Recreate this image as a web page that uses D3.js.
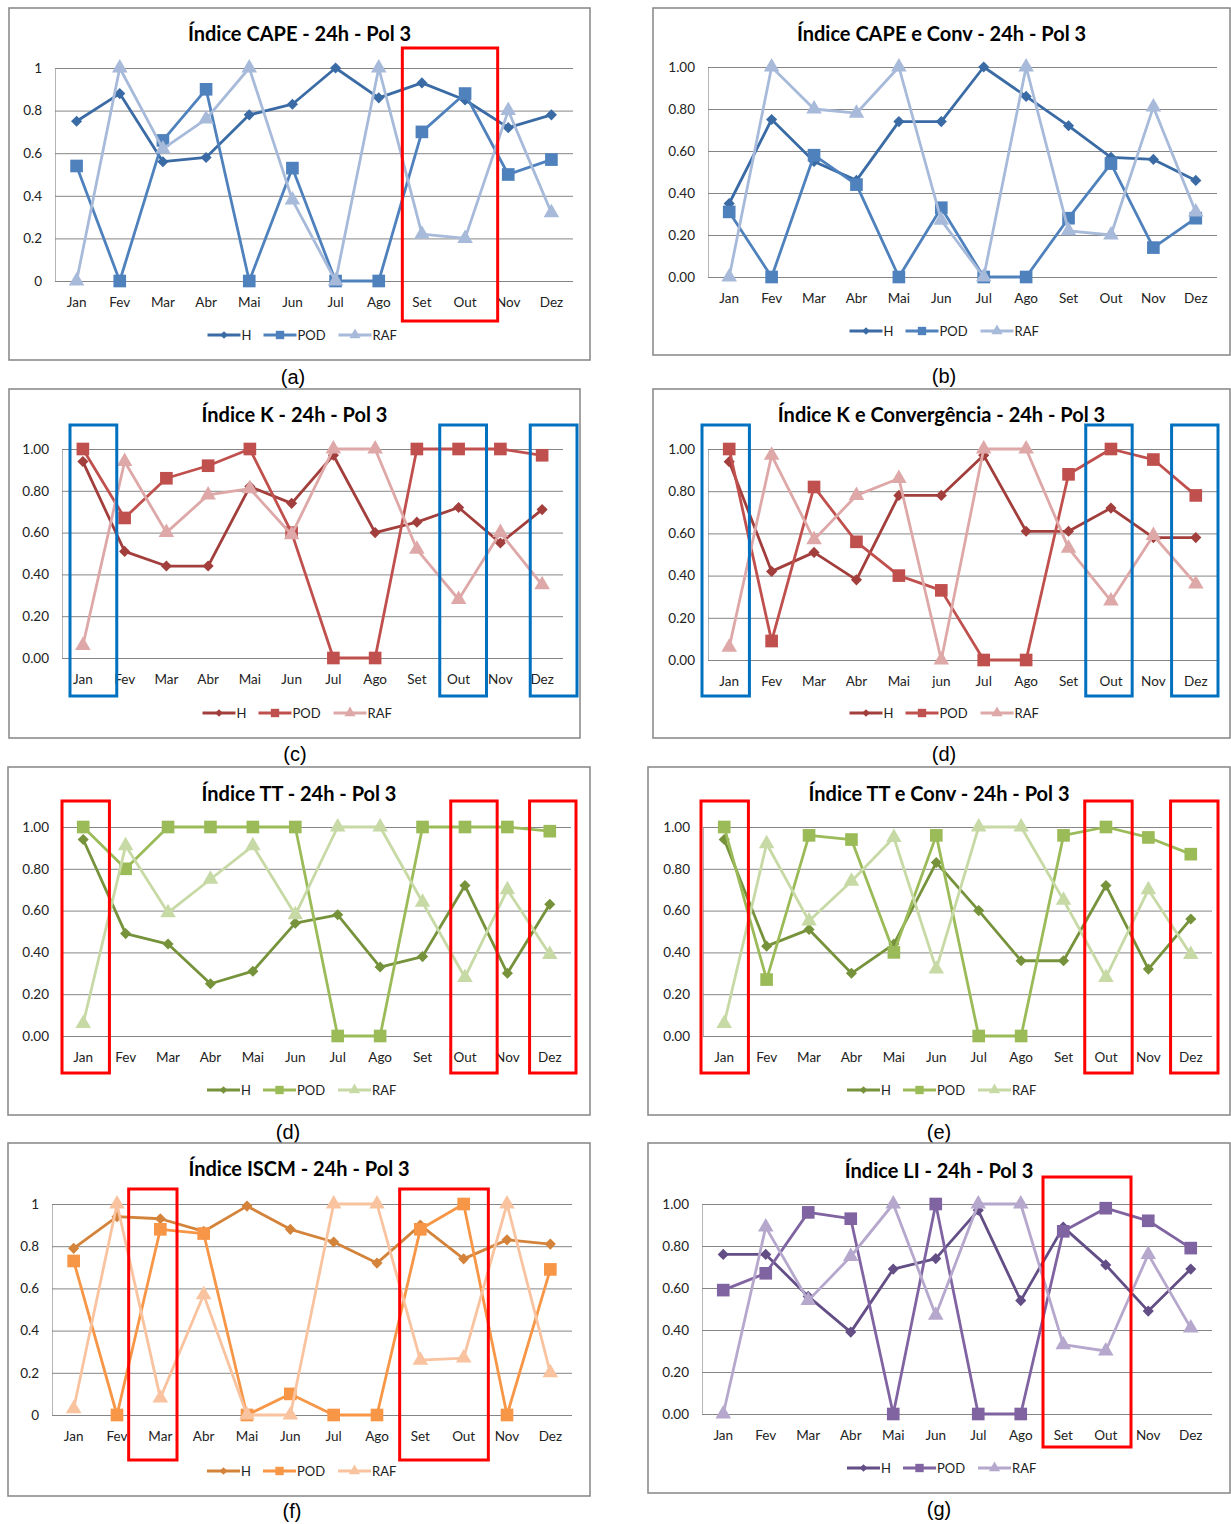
<!DOCTYPE html>
<html>
<head>
<meta charset="utf-8">
<script src="https://cdn.jsdelivr.net/npm/d3@7"></script>
<style>
  body { margin: 0; background: #fff; }
  svg { display: block; }
</style>
</head>
<body>
<svg id="fig" width="1231" height="1524"></svg>
<script>
// months on the x axis (panel d writes "jun" in lower case)
const months = ["Jan", "Fev", "Mar", "Abr", "Mai", "Jun", "Jul", "Ago", "Set", "Out", "Nov", "Dez"];
const monthsK = ["Jan", "Fev", "Mar", "Abr", "Mai", "jun", "Jul", "Ago", "Set", "Out", "Nov", "Dez"];
const seriesNames = ["H", "POD", "RAF"];

// y tick values and the two label styles used
const tickValues = [0, 0.2, 0.4, 0.6, 0.8, 1];
const ticksShort = ["0", "0.2", "0.4", "0.6", "0.8", "1"];
const ticksLong = ["0.00", "0.20", "0.40", "0.60", "0.80", "1.00"];

// (a) CAPE
const capeH   = [0.75, 0.88, 0.56, 0.58, 0.78, 0.83, 1.00, 0.86, 0.93, 0.85, 0.72, 0.78];
const capePOD = [0.54, 0.00, 0.66, 0.90, 0.00, 0.53, 0.00, 0.00, 0.70, 0.88, 0.50, 0.57];
const capeRAF = [0.00, 1.00, 0.62, 0.76, 1.00, 0.38, 0.00, 1.00, 0.22, 0.20, 0.80, 0.32];
// (b) CAPE e Conv
const capeConvH   = [0.35, 0.75, 0.55, 0.46, 0.74, 0.74, 1.00, 0.86, 0.72, 0.57, 0.56, 0.46];
const capeConvPOD = [0.31, 0.00, 0.58, 0.44, 0.00, 0.33, 0.00, 0.00, 0.28, 0.54, 0.14, 0.28];
const capeConvRAF = [0.00, 1.00, 0.80, 0.78, 1.00, 0.27, 0.00, 1.00, 0.22, 0.20, 0.81, 0.31];
// (c) K
const kH   = [0.94, 0.51, 0.44, 0.44, 0.82, 0.74, 0.97, 0.60, 0.65, 0.72, 0.55, 0.71];
const kPOD = [1.00, 0.67, 0.86, 0.92, 1.00, 0.60, 0.00, 0.00, 1.00, 1.00, 1.00, 0.97];
const kRAF = [0.06, 0.94, 0.60, 0.78, 0.81, 0.59, 1.00, 1.00, 0.52, 0.28, 0.60, 0.35];
// (d) K e Convergência
const kConvH   = [0.94, 0.42, 0.51, 0.38, 0.78, 0.78, 0.97, 0.61, 0.61, 0.72, 0.58, 0.58];
const kConvPOD = [1.00, 0.09, 0.82, 0.56, 0.40, 0.33, 0.00, 0.00, 0.88, 1.00, 0.95, 0.78];
const kConvRAF = [0.06, 0.97, 0.57, 0.78, 0.86, 0.00, 1.00, 1.00, 0.53, 0.28, 0.59, 0.36];
// (d) TT
const ttH   = [0.94, 0.49, 0.44, 0.25, 0.31, 0.54, 0.58, 0.33, 0.38, 0.72, 0.30, 0.63];
const ttPOD = [1.00, 0.80, 1.00, 1.00, 1.00, 1.00, 0.00, 0.00, 1.00, 1.00, 1.00, 0.98];
const ttRAF = [0.06, 0.91, 0.59, 0.75, 0.91, 0.58, 1.00, 1.00, 0.64, 0.28, 0.70, 0.39];
// (e) TT e Conv
const ttConvH   = [0.94, 0.43, 0.51, 0.30, 0.44, 0.83, 0.60, 0.36, 0.36, 0.72, 0.32, 0.56];
const ttConvPOD = [1.00, 0.27, 0.96, 0.94, 0.40, 0.96, 0.00, 0.00, 0.96, 1.00, 0.95, 0.87];
const ttConvRAF = [0.06, 0.92, 0.55, 0.74, 0.95, 0.32, 1.00, 1.00, 0.65, 0.28, 0.70, 0.39];
// (f) ISCM
const iscmH   = [0.79, 0.94, 0.93, 0.87, 0.99, 0.88, 0.82, 0.72, 0.90, 0.74, 0.83, 0.81];
const iscmPOD = [0.73, 0.00, 0.88, 0.86, 0.00, 0.10, 0.00, 0.00, 0.88, 1.00, 0.00, 0.69];
const iscmRAF = [0.03, 1.00, 0.08, 0.57, 0.00, 0.00, 1.00, 1.00, 0.26, 0.27, 1.00, 0.20];
// (g) LI
const liH   = [0.76, 0.76, 0.56, 0.39, 0.69, 0.74, 0.97, 0.54, 0.89, 0.71, 0.49, 0.69];
const liPOD = [0.59, 0.67, 0.96, 0.93, 0.00, 1.00, 0.00, 0.00, 0.87, 0.98, 0.92, 0.79];
const liRAF = [0.00, 0.89, 0.54, 0.75, 1.00, 0.47, 1.00, 1.00, 0.33, 0.30, 0.76, 0.41];

// colour triples: H, POD, RAF
const blues   = ["#3A6BA5", "#4F81BD", "#A7BADA"];
const reds    = ["#A23E3C", "#C0504D", "#DDA8A7"];
const greens  = ["#76933C", "#9BBB59", "#C7DAA6"];
const oranges = ["#D4833B", "#F79646", "#F9C3A0"];
const purples = ["#634E86", "#8064A2", "#B6A8CD"];

const panels = [
  { title: "Índice CAPE - 24h - Pol 3", tag: "(a)", tagX: 293, cats: months, ticks: ticksShort, data: [capeH, capePOD, capeRAF], colors: blues,
    frame: [9, 8, 590, 360], plot: [55, 68, 573, 281], titleY: 41, legendY: 335, tagY: 384,
    boxes: [{ c: "#FF0000", m0: "Set", m1: "Out", a: 2, b: 11, y0: 48, y1: 321 }] },
  { title: "Índice CAPE e Conv - 24h - Pol 3", tag: "(b)", tagX: 944, cats: months, ticks: ticksLong, data: [capeConvH, capeConvPOD, capeConvRAF], colors: blues,
    frame: [653, 8, 1230, 355], plot: [708, 67, 1217, 277], titleY: 41, legendY: 331, tagY: 383, boxes: [] },
  { title: "Índice K - 24h - Pol 3", tag: "(c)", tagX: 295, cats: months, ticks: ticksLong, data: [kH, kPOD, kRAF], colors: reds,
    frame: [9, 389, 580, 738], plot: [62, 449, 563, 658], titleY: 422, legendY: 713, tagY: 761,
    boxes: [{ c: "#0070C0", m0: "Jan", m1: "Jan", a: 8, b: 13, y0: 425, y1: 696 },
            { c: "#0070C0", m0: "Out", m1: "Out", a: 2, b: 7, y0: 425, y1: 696 },
            { c: "#0070C0", m0: "Dez", m1: "Dez", a: 9, b: 14, y0: 425, y1: 696 }] },
  { title: "Índice K e Convergência - 24h - Pol 3", tag: "(d)", tagX: 944, cats: monthsK, ticks: ticksLong, data: [kConvH, kConvPOD, kConvRAF], colors: reds,
    frame: [653, 389, 1230, 738], plot: [708, 449, 1217, 660], titleY: 422, legendY: 713, tagY: 761,
    boxes: [{ c: "#0070C0", m0: "Jan", m1: "Jan", a: -6, b: -1, y0: 425, y1: 696 },
            { c: "#0070C0", m0: "Out", m1: "Out", a: -4, b: 0, y0: 425, y1: 696 },
            { c: "#0070C0", m0: "Dez", m1: "Dez", a: -3, b: 1, y0: 425, y1: 696 }] },
  { title: "Índice TT - 24h - Pol 3", tag: "(d)", tagX: 288, cats: months, ticks: ticksLong, data: [ttH, ttPOD, ttRAF], colors: greens,
    frame: [8, 767, 590, 1115], plot: [62, 827, 571, 1036], titleY: 801, legendY: 1090, tagY: 1139,
    boxes: [{ c: "#FF0000", m0: "Jan", m1: "Jan", a: 0, b: 5, y0: 801, y1: 1073 },
            { c: "#FF0000", m0: "Out", m1: "Out", a: 7, b: 11, y0: 801, y1: 1073 },
            { c: "#FF0000", m0: "Dez", m1: "Dez", a: 1, b: 5, y0: 801, y1: 1073 }] },
  { title: "Índice TT e Conv - 24h - Pol 3", tag: "(e)", tagX: 939, cats: months, ticks: ticksLong, data: [ttConvH, ttConvPOD, ttConvRAF], colors: greens,
    frame: [648, 767, 1230, 1115], plot: [703, 827, 1212, 1036], titleY: 801, legendY: 1090, tagY: 1139,
    boxes: [{ c: "#FF0000", m0: "Jan", m1: "Jan", a: -2, b: 3, y0: 801, y1: 1073 },
            { c: "#FF0000", m0: "Out", m1: "Out", a: 0, b: 5, y0: 801, y1: 1073 },
            { c: "#FF0000", m0: "Dez", m1: "Dez", a: 1, b: 6, y0: 801, y1: 1073 }] },
  { title: "Índice ISCM - 24h - Pol 3", tag: "(f)", tagX: 292, cats: months, ticks: ticksShort, data: [iscmH, iscmPOD, iscmRAF], colors: oranges,
    frame: [8, 1143, 590, 1496], plot: [52, 1204, 572, 1415], titleY: 1176, legendY: 1471, tagY: 1518,
    boxes: [{ c: "#FF0000", m0: "Mar", m1: "Mar", a: -10, b: -5, y0: 1189, y1: 1460 },
            { c: "#FF0000", m0: "Set", m1: "Out", a: 1, b: 3, y0: 1189, y1: 1460 }] },
  { title: "Índice LI - 24h - Pol 3", tag: "(g)", tagX: 939, cats: months, ticks: ticksLong, data: [liH, liPOD, liRAF], colors: purples,
    frame: [648, 1143, 1230, 1493], plot: [702, 1204, 1212, 1414], titleY: 1178, legendY: 1468, tagY: 1516,
    boxes: [{ c: "#FF0000", m0: "Set", m1: "Out", a: 1, b: 4, y0: 1177, y1: 1447 }] }
];

const svg = d3.select("#fig");
// H = diamond (square turned 45 degrees), POD = square, RAF = triangle
const symbols = [d3.symbolSquare, d3.symbolSquare, d3.symbolTriangle];
const symbolRotate = [45, 0, 0];
const symbolSizes = [62, 160, 105];
const legendSizes = [30, 70, 55];
const font = "Lato, 'DejaVu Sans', sans-serif";

panels.forEach(drawPanel);

function drawPanel(p) {
  const [fx0, fy0, fx1, fy1] = p.frame;
  const [px0, py0, px1, py1] = p.plot;
  const g = svg.append("g");

  // chart frame
  g.append("rect")
    .attr("x", fx0).attr("y", fy0)
    .attr("width", fx1 - fx0).attr("height", fy1 - fy0)
    .attr("fill", "#fff").attr("stroke", "#8c8c8c").attr("stroke-width", 1.6);

  const x = d3.scaleBand().domain(p.cats).range([px0, px1]);
  const y = d3.scaleLinear().domain([0, 1]).range([py1, py0]);
  const cx = d => x(d) + x.bandwidth() / 2;

  // gridlines + y labels
  const yAxis = g.append("g")
    .attr("transform", `translate(${px0},0)`)
    .call(d3.axisLeft(y).tickValues(tickValues)
      .tickFormat((d, i) => p.ticks[i])
      .tickSize(-(px1 - px0)).tickSizeOuter(0).tickPadding(13));
  yAxis.select(".domain").attr("stroke", "#b5b5b5").attr("stroke-width", 1);
  yAxis.selectAll(".tick line").attr("stroke", "#858585").attr("stroke-width", 1);
  yAxis.selectAll(".tick text")
    .attr("fill", "#222").style("font-family", font).style("font-size", "13.5px");

  // x labels
  const xAxis = g.append("g")
    .attr("transform", `translate(0,${py1})`)
    .call(d3.axisBottom(x).tickSize(0).tickPadding(16));
  xAxis.select(".domain").remove();
  xAxis.selectAll(".tick text")
    .attr("fill", "#222").style("font-family", font).style("font-size", "13.5px");

  // title
  g.append("text")
    .attr("x", (fx0 + fx1) / 2).attr("y", p.titleY)
    .attr("text-anchor", "middle")
    .style("font-family", font).style("font-weight", "bold").style("font-size", "20px")
    .attr("fill", "#000")
    .text(p.title);

  // series: H, POD, RAF
  const line = d3.line().x((d, i) => cx(p.cats[i])).y(d => y(d));
  p.data.forEach((vals, s) => {
    g.append("path")
      .datum(vals)
      .attr("d", line)
      .attr("fill", "none")
      .attr("stroke", p.colors[s])
      .attr("stroke-width", 2.8)
      .attr("stroke-linejoin", "round");
    g.selectAll(null)
      .data(vals)
      .enter()
      .append("path")
      .attr("d", d3.symbol().type(symbols[s]).size(symbolSizes[s]))
      .attr("transform", (d, i) => `translate(${cx(p.cats[i])},${y(d)}) rotate(${symbolRotate[s]})`)
      .attr("fill", p.colors[s]);
  });

  // legend
  const legendX = (fx0 + fx1) / 2 - 92;
  const offsets = [0, 56, 131];
  seriesNames.forEach((name, s) => {
    const lx = legendX + offsets[s];
    g.append("line")
      .attr("x1", lx).attr("x2", lx + 33)
      .attr("y1", p.legendY).attr("y2", p.legendY)
      .attr("stroke", p.colors[s]).attr("stroke-width", 2.8);
    g.append("path")
      .attr("d", d3.symbol().type(symbols[s]).size(legendSizes[s]))
      .attr("transform", `translate(${lx + 16.5},${p.legendY}) rotate(${symbolRotate[s]})`)
      .attr("fill", p.colors[s]);
    g.append("text")
      .attr("x", lx + 34).attr("y", p.legendY + 4.5)
      .style("font-family", font).style("font-size", "13px")
      .attr("fill", "#222")
      .text(name);
  });

  // highlight boxes
  p.boxes.forEach(b => {
    const bx0 = x(b.m0) + b.a;
    const bx1 = x(b.m1) + x.bandwidth() + b.b;
    g.append("rect")
      .attr("x", bx0).attr("y", b.y0)
      .attr("width", bx1 - bx0).attr("height", b.y1 - b.y0)
      .attr("fill", "none").attr("stroke", b.c).attr("stroke-width", 3);
  });

  // panel tag below the frame
  svg.append("text")
    .attr("x", p.tagX).attr("y", p.tagY)
    .attr("text-anchor", "middle")
    .style("font-family", "'Liberation Sans', Arial, sans-serif").style("font-size", "20px")
    .attr("fill", "#000")
    .text(p.tag);
}
</script>
</body>
</html>
